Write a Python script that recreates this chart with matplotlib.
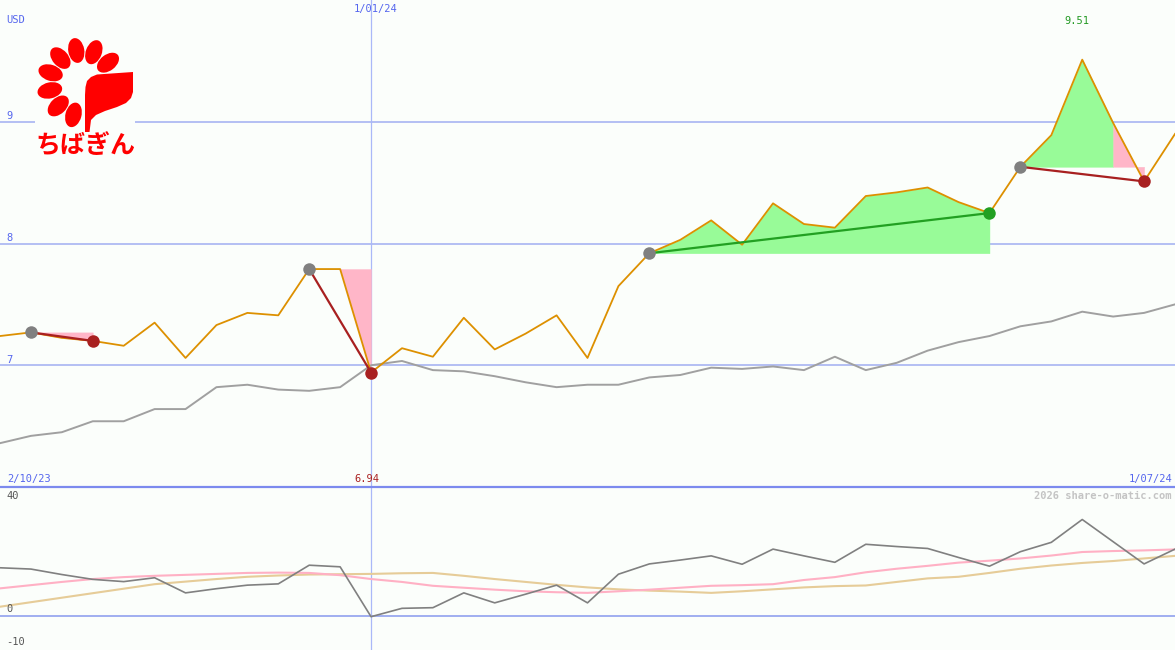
import matplotlib
matplotlib.use("Agg")
import matplotlib.pyplot as plt
from matplotlib.patches import Ellipse, Polygon, Rectangle
import numpy as np

# ---------------- data ----------------
close = [7.24, 7.27, 7.225, 7.20, 7.16, 7.35, 7.06, 7.33, 7.43, 7.41,
         7.79, 7.79, 6.94, 7.14, 7.07, 7.39, 7.13, 7.26, 7.41, 7.06,
         7.65, 7.92, 8.03, 8.19, 7.99, 8.33, 8.16, 8.13, 8.39, 8.42,
         8.46, 8.34, 8.25, 8.63, 8.89, 9.51, 8.99, 8.51, 8.90]
moving_avg = [6.36, 6.42, 6.45, 6.54, 6.54, 6.64, 6.64, 6.82, 6.84, 6.80,
              6.79, 6.82, 7.00, 7.035, 6.96, 6.95, 6.91, 6.86, 6.82, 6.84,
              6.84, 6.90, 6.92, 6.98, 6.97, 6.99, 6.96, 7.07, 6.96, 7.02,
              7.12, 7.19, 7.24, 7.32, 7.36, 7.44, 7.40, 7.43, 7.50]
osc_gray = [14.9, 14.5, 12.8, 11.3, 10.6, 11.8, 7.1, 8.4, 9.5, 9.9,
            15.7, 15.2, -0.3, 2.3, 2.5, 7.1, 4.0, 6.7, 9.5, 4.0,
            12.9, 16.1, 17.3, 18.6, 16.0, 20.7, 18.6, 16.6, 22.2, 21.5,
            20.9, 18.1, 15.4, 19.9, 22.8, 29.9, 23.0, 16.1, 20.7]
osc_pink = [8.5, 9.5, 10.5, 11.4, 12.0, 12.4, 12.7, 13.0, 13.3, 13.4,
            13.3, 12.6, 11.4, 10.5, 9.3, 8.7, 8.1, 7.6, 7.3, 7.1,
            7.6, 8.1, 8.7, 9.3, 9.5, 9.8, 11.1, 12.0, 13.5, 14.6,
            15.5, 16.5, 17.1, 17.8, 18.7, 19.8, 20.1, 20.3, 20.6]
osc_tan = [2.8, 4.2, 5.6, 7.0, 8.4, 9.8, 10.6, 11.4, 12.1, 12.5,
           12.8, 12.9, 13.0, 13.2, 13.3, 12.4, 11.4, 10.5, 9.6, 8.8,
           8.2, 7.8, 7.5, 7.1, 7.6, 8.2, 8.8, 9.2, 9.4, 10.5,
           11.6, 12.1, 13.3, 14.6, 15.6, 16.4, 17.0, 17.8, 18.6]
trade_entries = [1, 10, 21, 33]
trade_exits = [3, 12, 32, 37]
price_ticks = [7, 8, 9]
date_labels = ["2/10/23", "1/01/24", "1/07/24"]
date_marker_index = 12
osc_ticks = ["40", "0", "-10"]
max_label = "9.51"
min_label = "6.94"
currency = "USD"
watermark = "2026 share-o-matic.com"
logo_text = "ちばぎん"

# ---------------- styling ----------------
W, H = 1175, 650
BG = "#fbfefb"
GRID = "#a8b4f2"
SEP = "#7c8aee"
LBL = "#5566ee"
ORANGE = "#dd9000"
MA_GRAY = "#a0a0a0"
PINK = "#ffb6c8"
LGREEN = "#98fb98"
DRED = "#a82020"
DGREEN = "#22a022"
DOTGRAY = "#808080"
MONO = "DejaVu Sans Mono"
FS = 7.5

fig = plt.figure(figsize=(W / 100, H / 100), dpi=100, facecolor=BG)

def fx(x):
    return x / W

def fy(y):
    return 1 - y / H

x = np.arange(len(close))
c = np.array(close)

# main price axes
ax = fig.add_axes([0, 163 / H, 1, 487 / H])
ax.set_facecolor(BG)
ax.set_xlim(0, len(close) - 1)
ax.set_ylim(6, 10)
ax.axis("off")
for t in price_ticks:
    ax.axhline(t, color=GRID, lw=1.2, zorder=1)
ax.axvline(date_marker_index, color="#aab8f8", lw=0.9, zorder=1)

# trade fills (consecutive segments of the same colour merged into one polygon)
for s, e in zip(trade_entries, trade_exits):
    lvl = c[s]
    cols = [LGREEN if c[k + 1] >= lvl else PINK for k in range(s, e)]
    k = s
    while k < e:
        j = k
        while j + 1 < e and cols[j + 1 - s] == cols[k - s]:
            j += 1
        ax.fill_between(x[k:j + 2], lvl, c[k:j + 2], facecolor=cols[k - s],
                        edgecolor=cols[k - s], lw=0.3, zorder=2)
        k = j + 1

ax.plot(x, moving_avg, color=MA_GRAY, lw=1.4, zorder=3)
ax.plot(x, close, color=ORANGE, lw=1.3, zorder=4)
for s, e in zip(trade_entries, trade_exits):
    win = c[e] >= c[s]
    lc = DGREEN if win else DRED
    ax.plot([x[s], x[e]], [c[s], c[e]], color=lc, lw=1.6, zorder=5)
    ax.plot(x[s], c[s], "o", color=DOTGRAY, ms=9, mec="none", zorder=6)
    ax.plot(x[e], c[e], "o", color=lc, ms=9, mec="none", zorder=6)

# oscillator axes
ax2 = fig.add_axes([0, 0, 1, 163 / H])
ax2.set_facecolor(BG)
ax2.set_xlim(0, len(close) - 1)
ax2.set_ylim(-10.65, 40)
ax2.axis("off")
ax2.axhline(0, color="#a0aef0", lw=1.4, zorder=1)
ax2.axvline(date_marker_index, color="#aab8f8", lw=0.9, zorder=1)
ax2.plot(x, osc_tan, color="#e6cc98", lw=1.5, zorder=2)
ax2.plot(x, osc_pink, color="#ffb0c4", lw=1.5, zorder=3)
ax2.plot(x, osc_gray, color="#808080", lw=1.2, zorder=4)

# separator line
fig.add_artist(plt.Line2D([0, 1], [fy(487), fy(487)], color=SEP, lw=1.6))

# texts
def txt(xp, yp, s, color=LBL, ha="left", **kw):
    fig.text(fx(xp), fy(yp), s, color=color, ha=ha, va="center",
             family=MONO, fontsize=FS, **kw)

txt(6, 20, currency)
for t in price_ticks:
    txt(6, 365 - (t - 7) * 122 - 5, str(t))
txt(376, 9, date_labels[1], ha="center")
txt(7, 479, date_labels[0])
txt(1172, 479, date_labels[2], ha="right")
txt(1077, 21, max_label, color="#229922", ha="center")
txt(367, 479, min_label, color="#aa2020", ha="center")
txt(6, 496, osc_ticks[0], color="#555555")
txt(6, 609, osc_ticks[1], color="#555555")
txt(6, 642, osc_ticks[2], color="#555555")
txt(1172, 496, watermark, color="#c4c4c4", ha="right", weight="bold")

# logo
lax = fig.add_axes([0, 0, 1, 1], zorder=10)
lax.set_xlim(0, W)
lax.set_ylim(H, 0)
lax.axis("off")
lax.patch.set_alpha(0)
lax.add_patch(Rectangle((35, 33), 100, 128, color=BG, lw=0))
cx, cy, r = 82, 83, 33
for ang in [38, 69, 100, 131, 162, 193, 224, 255]:
    th = np.deg2rad(ang)
    lax.add_patch(Ellipse((cx + r * np.cos(th), cy - r * np.sin(th)), 25, 16,
                          angle=-ang, color="#ff0000", lw=0))
leaf = [(85, 132), (85, 95), (85.5, 87), (87, 81), (91, 77), (97, 74.5), (133, 72),
        (133, 92), (131, 98), (126, 103), (117, 107), (105, 111),
        (96, 115), (91, 120), (89.5, 132)]
lax.add_patch(Polygon(leaf, closed=True, color="#ff0000", lw=0))
lax.text(85.5, 147, logo_text, color="#ff0000", ha="center", va="center",
         fontsize=18, weight="bold", family=["Noto Sans CJK JP", "DejaVu Sans"])

fig.savefig("out.png", dpi=100, facecolor=BG)
